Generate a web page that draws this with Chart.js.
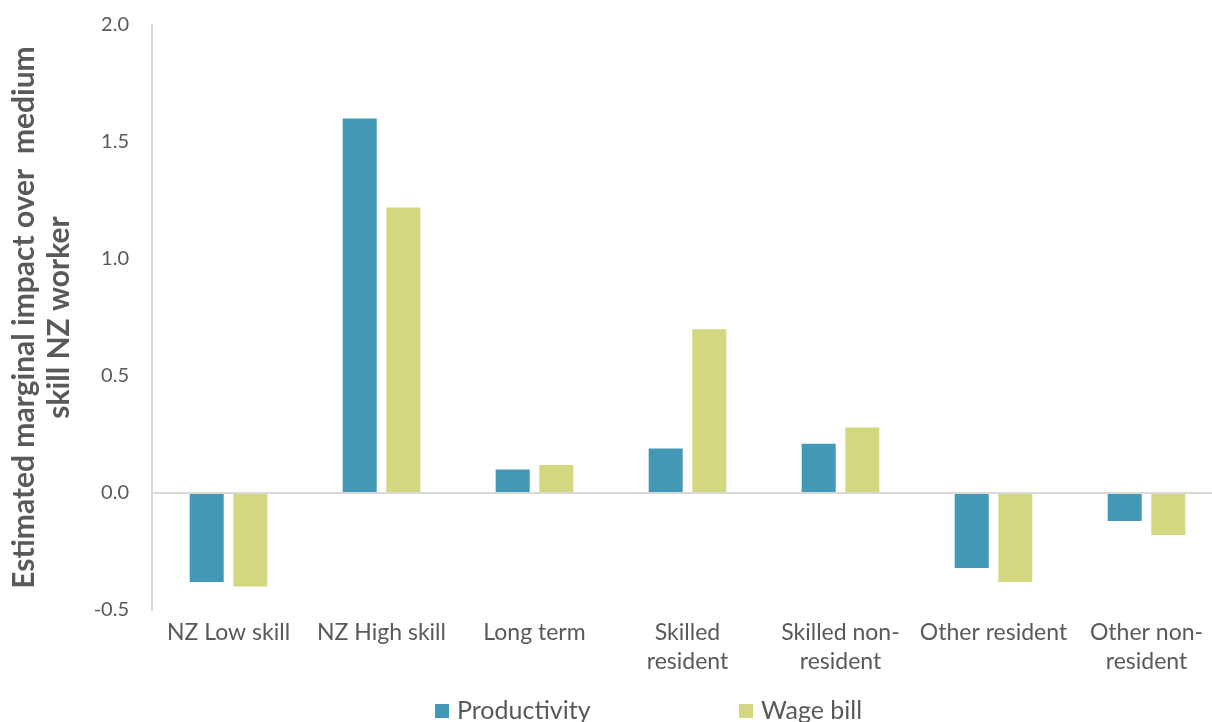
<!DOCTYPE html>
<html>
<head>
<meta charset="utf-8">
<script src="https://cdn.jsdelivr.net/npm/chart.js@4/dist/chart.umd.min.js"></script>
<style>
  html, body { margin: 0; padding: 0; background: #fff; overflow: hidden; }
  #wrap { width: 1224px; height: 722px; }
</style>
</head>
<body>
<div id="wrap"><canvas id="impactChart"></canvas></div>
<script>
// data
const categories = ['NZ Low skill', 'NZ High skill', 'Long term', ['Skilled', 'resident'],
    ['Skilled non-', 'resident'], 'Other resident', ['Other non-', 'resident']];
const productivity = [-0.38, 1.60, 0.10, 0.19, 0.21, -0.32, -0.12];
const wageBill = [-0.40, 1.22, 0.12, 0.70, 0.28, -0.38, -0.18];
const yTicks = [-0.5, 0.0, 0.5, 1.0, 1.5, 2.0];

const grey = '#595959';
const lineGrey = '#d9d9d9';

// legend drawn by hand so the two items can sit far apart like the original
const spreadLegend = {
    id: 'spreadLegend',
    afterDraw(chart) {
        const c = chart.ctx;
        const startX = 435, gap = 304, y = 711;
        c.save();
        c.font = '25px Lato';
        c.textBaseline = 'middle';
        chart.data.datasets.forEach((ds, i) => {
            const x = startX + i * gap;
            c.fillStyle = ds.backgroundColor;
            c.fillRect(x, y - 7, 14, 14);
            c.fillStyle = grey;
            c.fillText(ds.label, x + 22, y);
        });
        c.restore();
    }
};

const ctx = document.getElementById('impactChart').getContext('2d');
const impactChart = new Chart(ctx, {
    type: 'bar',
    data: {
        labels: categories,
        datasets: [{
            label: 'Productivity',
            data: productivity,
            backgroundColor: '#4398b6',
            categoryPercentage: 0.57,
            barPercentage: 0.78
        }, {
            label: 'Wage bill',
            data: wageBill,
            backgroundColor: '#d3d77f',
            categoryPercentage: 0.57,
            barPercentage: 0.78
        }]
    },
    plugins: [spreadLegend],
    options: {
        responsive: true,
        maintainAspectRatio: false,
        animation: false,
        layout: { padding: { top: 25, left: 0, right: 1, bottom: 0 } },
        plugins: {
            legend: { display: false },
            tooltip: { enabled: false }
        },
        scales: {
            x: {
                grid: { display: false },
                border: { display: false },
                ticks: {
                    color: grey,
                    font: { family: 'Lato', size: 23, lineHeight: 1.22 },
                    padding: 1,
                    maxRotation: 0,
                    autoSkip: false
                },
                afterFit(scale) { scale.height = 112; }
            },
            y: {
                min: -0.5,
                max: 2.0,
                afterBuildTicks(scale) {
                    scale.ticks = yTicks.map(v => ({ value: v }));
                },
                grid: {
                    drawTicks: false,
                    lineWidth: 2,
                    color: c => (c.tick && c.tick.value === 0 ? lineGrey : 'rgba(0,0,0,0)')
                },
                border: { display: true, color: lineGrey, width: 2 },
                ticks: {
                    color: grey,
                    font: { family: 'Lato', size: 20 },
                    padding: 23,
                    callback: v => v.toFixed(1)
                },
                title: {
                    display: true,
                    text: ['Estimated marginal impact over  medium', 'skill NZ worker'],
                    color: grey,
                    font: { family: 'Lato', size: 30, weight: 'bold', lineHeight: 1.17 },
                    padding: { top: 7, bottom: 0 }
                },
                afterFit(scale) {
                    scale.width = 152;
                    scale.paddingTop = 0;
                    scale.paddingBottom = 0;
                }
            }
        }
    }
});
</script>
</body>
</html>
